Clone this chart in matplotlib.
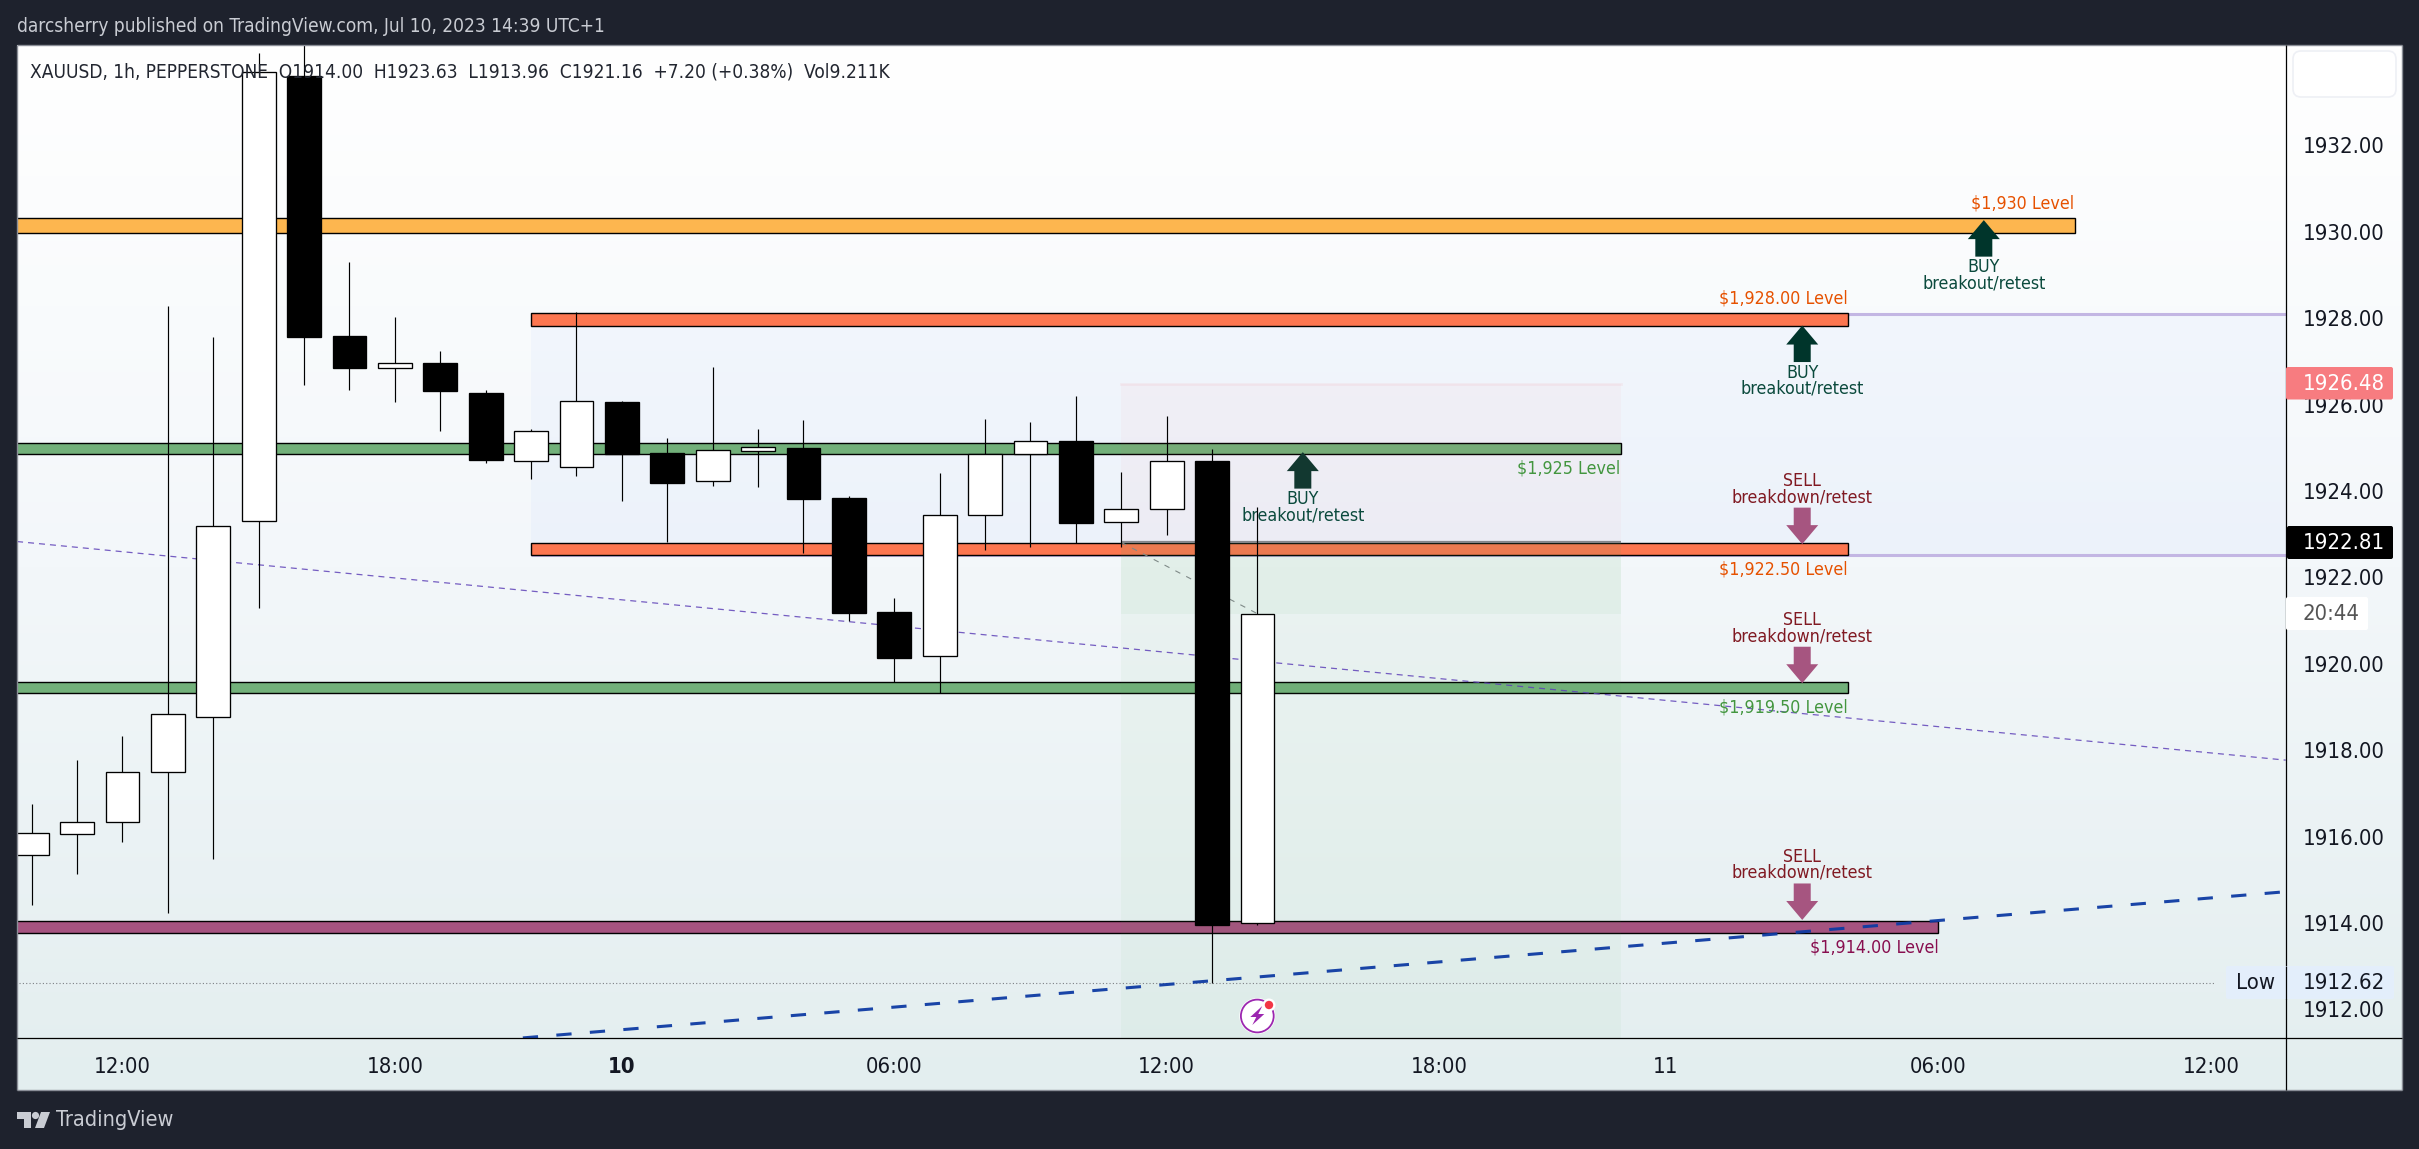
import numpy as np
import matplotlib
matplotlib.use("Agg")
import matplotlib.pyplot as plt
from matplotlib import font_manager as fm
from matplotlib.lines import Line2D
from matplotlib.patches import Rectangle, Polygon, Circle, FancyBboxPatch
from matplotlib.transforms import IdentityTransform
from matplotlib.font_manager import FontProperties

# ---------- data ----------
hours = list(range(-2, 26))
opens = [1915.57, 1916.05, 1916.33, 1917.49, 1918.78, 1923.30, 1933.61, 1927.59, 1926.85, 1926.96,
         1926.27, 1924.69, 1924.55, 1926.06, 1924.88, 1924.22, 1924.92, 1925.00, 1923.84, 1921.20,
         1920.17, 1923.44, 1924.85, 1925.16, 1923.28, 1923.58, 1924.69, 1914.00]
closes = [1916.08, 1916.33, 1917.49, 1918.83, 1923.18, 1933.69, 1927.57, 1926.85, 1926.96, 1926.32,
          1924.72, 1925.38, 1926.08, 1924.85, 1924.19, 1924.94, 1925.01, 1923.82, 1921.18, 1920.14,
          1923.44, 1924.85, 1925.15, 1923.27, 1923.58, 1924.69, 1913.96, 1921.16]
highs = [1916.75, 1917.77, 1918.33, 1928.28, 1927.56, 1934.13, 1934.60, 1929.30, 1928.03, 1927.24,
         1926.34, 1925.44, 1928.14, 1926.08, 1925.23, 1926.87, 1925.44, 1925.64, 1923.88, 1921.52,
         1924.42, 1925.67, 1925.60, 1926.20, 1924.44, 1925.74, 1924.97, 1923.63]
lows = [1914.42, 1915.14, 1915.88, 1914.24, 1915.49, 1921.30, 1926.46, 1926.34, 1926.07, 1925.40,
        1924.65, 1924.28, 1924.35, 1923.78, 1922.83, 1924.12, 1924.10, 1922.57, 1921.00, 1919.57,
        1919.32, 1922.64, 1922.70, 1922.79, 1922.71, 1922.97, 1912.62, 1913.96]

xtick_pos = [0, 6, 11, 17, 23, 29, 34, 40, 46]
xtick_lab = ["12:00", "18:00", "10", "06:00", "12:00", "18:00", "11", "06:00", "12:00"]
ytick_pos = [1912, 1914, 1916, 1918, 1920, 1922, 1924, 1926, 1928, 1930, 1932, 1934]

# level bands: low, high, start hour, end hour, colour
band_low = [1929.97, 1927.81, 1924.85, 1922.51, 1919.32, 1913.76]
band_high = [1930.31, 1928.11, 1925.10, 1922.79, 1919.57, 1914.05]
band_start = [-3, 9, -3, 9, -3, -3]
band_end = [43, 38, 33, 38, 38, 40]
band_color = ["#fdb64f", "#fc7650", "#72b07a", "#fc7650", "#72b07a", "#a55380"]

level_text = ["$1,930 Level", "$1,928.00 Level", "$1,925 Level", "$1,922.50 Level", "$1,919.50 Level", "$1,914.00 Level"]
level_color = ["#e65100", "#e65100", "#43963f", "#e65100", "#43963f", "#880e4f"]
level_side = [1, 1, -1, -1, -1, -1]

buy_hours = [41, 37, 26]
buy_tips = [1930.27, 1927.83, 1924.90]
sell_hours = [37, 37, 37]
sell_tips = [1922.77, 1919.55, 1914.07]

entry_price, stop_price, last_close = 1922.81, 1926.48, 1921.16
session_low = 1912.62
pos_start, pos_end = 22, 33
range_top, range_bottom = 1928.09, 1922.53

trend_thick_h = [8.82, 47.6]
trend_thick_p = [1911.34, 1914.72]
trend_thin_h = [-2.32, 47.65]
trend_thin_p = [1922.83, 1917.77]

# ---------- setup ----------
W, H = 2419, 1149
L, R, OUT_R, T, B, OUT_B = 17, 2286, 2402, 45, 1038, 1090
DARK = "#1e222d"
TICK = 15.8
NOTE = 12.75

has_cond = any(f.name == "DejaVu Sans" and str(f.stretch) == "condensed" for f in fm.fontManager.ttflist)
def font(size, weight="normal"):
    if has_cond:
        return FontProperties(family="DejaVu Sans", stretch="condensed", size=size, weight=weight)
    return FontProperties(family="Open Sans", size=size, weight=weight)

fig = plt.figure(figsize=(W / 100, H / 100), dpi=100, facecolor=DARK)
idt = IdentityTransform()
def Y(y):
    return H - y

# gradient background
bg = fig.add_axes([L / W, (H - OUT_B) / H, (OUT_R - L) / W, (OUT_B - T) / H], zorder=-1)
stops = np.array([[255, 255, 255], [243, 247, 250], [227, 238, 239]]) / 255
t = np.linspace(0, 1, 256)
grad = np.stack([np.interp(t, [0, .5, 1], stops[:, i]) for i in range(3)], axis=1)[:, None, :]
bg.imshow(grad, aspect="auto", extent=[0, 1, 0, 1])
bg.axis("off")

ax = fig.add_axes([L / W, (H - B) / H, (R - L) / W, (B - T) / H], facecolor="none")
ax.set_xlim(-2.322, 47.656)
ax.set_ylim(1911.338, 1934.324)
for s in ax.spines.values():
    s.set_visible(False)

# ---------- shaded zones ----------
ax.add_patch(Rectangle((9, range_bottom), 60, range_top - range_bottom, fc="#2962ff", alpha=0.032, lw=0, zorder=1))
for p in (range_top, range_bottom):
    ax.plot([9, 60], [p, p], color="#c3b6e3", lw=2.2, zorder=1.2, solid_capstyle="butt")

# level bands
for lo, hi, s, e, c in zip(band_low, band_high, band_start, band_end, band_color):
    ax.add_patch(Rectangle((s, lo), e - s, hi - lo, fc=c, ec="black", lw=1.0, zorder=2))

# position tool
ax.add_patch(Rectangle((pos_start, entry_price), pos_end - pos_start, stop_price - entry_price,
                       fc="#f55a5a", alpha=0.035, lw=0, zorder=3))
ax.plot([pos_start, pos_end], [stop_price, stop_price], color="#f23645", alpha=0.06, lw=2, zorder=3)
ax.add_patch(Rectangle((pos_start, 1911), pos_end - pos_start, entry_price - 1911,
                       fc="#4caf50", alpha=0.045, lw=0, zorder=3))
ax.add_patch(Rectangle((pos_start, last_close), pos_end - pos_start, entry_price - last_close,
                       fc="#4caf50", alpha=0.05, lw=0, zorder=3))
ax.plot([pos_start, pos_end], [entry_price, entry_price], color="#85868a", lw=1.6, zorder=3.2, solid_capstyle="butt")
ax.plot([pos_start, 25], [entry_price, last_close], color="#7f8a88", lw=0.8, zorder=3.2, dashes=(5, 6))

# low line
ax.plot([-3, 46.1], [session_low, session_low], color="#7d7f84", lw=0.8, dashes=(1, 2), zorder=3.3)

# trend lines
ax.plot(trend_thin_h, trend_thin_p, color="#5f42b8", lw=0.9, dashes=(4.8, 4), zorder=3.4, alpha=0.85)
ax.plot(trend_thick_h, trend_thick_p, color="#0e3ba3", lw=2.2, dashes=(5, 6), zorder=3.5, dash_capstyle="butt", alpha=0.95)

# ---------- candles ----------
body_bottom = [min(o, c) for o, c in zip(opens, closes)]
body_height = [abs(o - c) for o, c in zip(opens, closes)]
body_color = ["white" if c >= o else "black" for o, c in zip(opens, closes)]
vl = ax.vlines(hours, lows, highs, colors="black", lw=0.85, zorder=4)
vl.set_snap(True)
ax.bar(hours, body_height, bottom=body_bottom, width=0.745, color=body_color, edgecolor="black", lw=0.95, zorder=4.2)

# ---------- arrows ----------
fig.canvas.draw()
UP = np.array([[0, 0], [16, -19], [8.5, -19], [8.5, -36.5], [-8.5, -36.5], [-8.5, -19], [-16, -19]])
def arrow(h, p, sign, color, z):
    x, y = ax.transData.transform((h, p))
    pts = UP * np.array([1, sign]) + np.array([x, y])
    ax.add_patch(Polygon(pts, closed=True, fc=color, ec="none", transform=idt, zorder=z))

for h, p in zip(buy_hours, buy_tips):
    arrow(h, p, 1, "#00352b" if h != 26 else "#123830", 3.8)
    ax.annotate("BUY", (h, p), xytext=(0, -47), textcoords="offset pixels", ha="center", va="center",
                color="#0b4a3d", fontproperties=font(NOTE), zorder=3.9)
    ax.annotate("breakout/retest", (h, p), xytext=(0, -63), textcoords="offset pixels", ha="center", va="center",
                color="#0b4a3d", fontproperties=font(NOTE), zorder=3.9)
for h, p in zip(sell_hours, sell_tips):
    arrow(h, p, -1, "#a65580", 3.8)
    ax.annotate("SELL", (h, p), xytext=(0, 63), textcoords="offset pixels", ha="center", va="center",
                color="#801922", fontproperties=font(NOTE), zorder=3.9)
    ax.annotate("breakdown/retest", (h, p), xytext=(0, 47), textcoords="offset pixels", ha="center", va="center",
                color="#801922", fontproperties=font(NOTE), zorder=3.9)

# level captions
for lo, hi, e, s, c, txt in zip(band_low, band_high, band_end, level_side, level_color, level_text):
    ref = hi if s > 0 else lo
    ax.annotate(txt, (e, ref), xytext=(0, 14.6 * s), textcoords="offset pixels", ha="right", va="center",
                color=c, fontproperties=font(NOTE), zorder=4.5)

# ---------- ticks ----------
ax.set_xticks(xtick_pos)
ax.set_xticklabels(xtick_lab)
ax.set_yticks(ytick_pos)
ax.set_yticklabels([f"{v:.2f}" for v in ytick_pos])
ax.yaxis.tick_right()
ax.tick_params(axis="x", length=0, pad=13.5, colors="#131722")
ax.tick_params(axis="y", length=0, pad=12.2, colors="#131722")
for lab in ax.get_xticklabels() + ax.get_yticklabels():
    lab.set_fontproperties(font(TICK))
ax.get_xticklabels()[2].set_fontproperties(font(TICK, "bold"))

# ---------- frame ----------
def fline(xs, ys, color, lw, z=2):
    fig.add_artist(Line2D(xs, [Y(v) for v in ys], color=color, lw=lw, transform=idt, zorder=z, solid_capstyle="butt"))

for xs, ys in [([L, OUT_R], [T, T]), ([L, OUT_R], [OUT_B, OUT_B]), ([L, L], [T, OUT_B]), ([OUT_R, OUT_R], [T, OUT_B])]:
    fline(xs, ys, "#8a8e97", 1.0)
fline([L, OUT_R], [B, B], "black", 0.9)
fline([R, R], [T, OUT_B], "black", 0.9)

# ---------- price-axis tags ----------
def ftext(x, y, s, color, size, ha="left", weight="normal", z=6):
    fig.text(x / W, (H - y) / H, s, color=color, fontproperties=font(size, weight), ha=ha, va="center", zorder=z)

def tag(x0, x1, y0, y1, color, z=5):
    fig.add_artist(FancyBboxPatch((x0, Y(y1)), x1 - x0, y1 - y0, boxstyle="round,pad=0,rounding_size=2",
                                  fc=color, ec="none", transform=idt, zorder=z))

tag(2286, 2393, 367, 399.5, "#f77c80")
ftext(2303, 383.5, f"{stop_price:.2f}", "white", TICK)
tag(2287, 2393, 526, 559, "black")
ftext(2303, 543, f"{entry_price:.2f}", "white", TICK)
tag(2286, 2368, 597, 630, "white")
ftext(2302, 613.5, "20:44", "#555555", TICK)
tag(2226, 2394, 966, 999, "#e3eefb")
ftext(2256, 983, "Low", "#131722", TICK, ha="center")
ftext(2303, 983, f"{session_low:.2f}", "#131722", TICK)
fline([R, R], [966, 999], "black", 0.9, z=5.5)
fig.add_artist(FancyBboxPatch((2293, Y(97)), 103, 46, boxstyle="round,pad=0,rounding_size=8",
                              fc="#ffffff", ec="#eef0f5", lw=1.2, transform=idt, zorder=5))

# ---------- header / footer ----------
ftext(17, 26.7, "darcsherry published on TradingView.com, Jul 10, 2023 14:39 UTC+1", "#c9ccd3", 13.72)
ftext(30, 71.7, "XAUUSD, 1h, PEPPERSTONE  O1914.00  H1923.63  L1913.96  C1921.16  +7.20 (+0.38%)  Vol9.211K",
      "#222630", 13.72, z=7)
ftext(55.5, 1120, "TradingView", "#c9ccd3", 15.6)
logo = "#c9ccd3"
for pts in ([(17, 1112), (31, 1112), (31, 1128), (24, 1128), (24, 1119), (17, 1119)],
            [(41, 1112), (50, 1112), (44, 1128), (35, 1128)]):
    fig.add_artist(Polygon([(x, Y(y)) for x, y in pts], closed=True, fc=logo, ec="none", transform=idt, zorder=6))
fig.add_artist(Circle((35.5, Y(1115.5)), 3.6, fc=logo, ec="none", transform=idt, zorder=6))

# ---------- event icon ----------
cx, cy = 1257.3, 1016
fig.add_artist(Circle((cx, Y(cy)), 18, fc="white", ec="none", transform=idt, zorder=6))
fig.add_artist(Circle((cx, Y(cy)), 16.4, fc="none", ec="#9c27b0", lw=1.3, transform=idt, zorder=6.1))
bolt = [(5, -10), (-7, 1), (-1, 1), (-5, 9), (7, -2), (1, -2)]
fig.add_artist(Polygon([(cx + a, Y(cy + b)) for a, b in bolt], closed=True, fc="#9c27b0", ec="none", transform=idt, zorder=6.2))
fig.add_artist(Circle((1269, Y(1005)), 6.5, fc="white", ec="none", transform=idt, zorder=6.3))
fig.add_artist(Circle((1269, Y(1005)), 4.2, fc="#f23645", ec="none", transform=idt, zorder=6.4))

fig.savefig("out.png", dpi=100, facecolor=DARK)
